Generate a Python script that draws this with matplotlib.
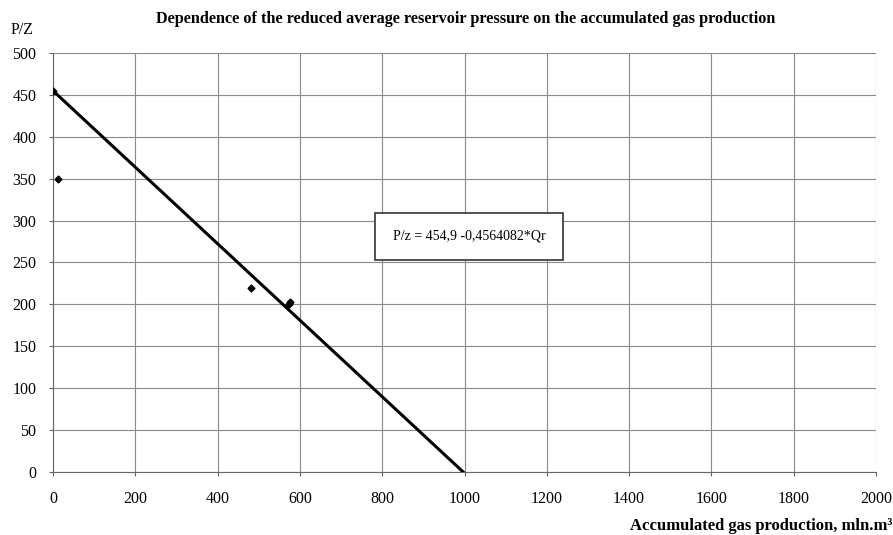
import matplotlib.pyplot as plt
import numpy as np

plt.rcParams['font.family'] = ['Liberation Serif', 'DejaVu Serif']

# measured points
q = [0, 12, 482, 573, 577]
pz = [455, 350, 220, 200, 203]

# trend line P/z = 454.9 - 0.4564082*Q
a, b = 454.9, 0.4564082
q_line = np.array([0, a / b])
pz_line = a - b * q_line

xticks = list(range(0, 2001, 200))
yticks = list(range(0, 501, 50))

fig = plt.figure(figsize=(8.93, 5.35), dpi=100)
ax = fig.add_axes([0.0594, 0.1178, 0.9216, 0.7832])

ax.plot(q_line, pz_line, color='black', lw=2.2, zorder=3)
ax.plot(q, pz, linestyle='none', marker='D', color='black', ms=3.5, zorder=4)

ax.set_xlim(0, 2000)
ax.set_ylim(0, 500)
ax.set_xticks(xticks)
ax.set_yticks(yticks)
ax.grid(True, color='#8a8a8a', lw=0.8)
ax.set_axisbelow(True)
for s in ['top', 'right']:
    ax.spines[s].set_visible(False)
for s in ['left', 'bottom']:
    ax.spines[s].set_color('#666666')
ax.tick_params(labelsize=11.5, length=3, color='#666666')
ax.tick_params(axis='x', pad=11)
ax.tick_params(axis='y', pad=9)

ax.text(1011, 281, 'P/z = 454,9 -0,4564082*Qr', fontsize=10, ha='center', va='center',
        bbox=dict(boxstyle='square,pad=1.25', fc='white', ec='#333333', lw=1.2), zorder=5)

fig.text(0.522, 0.965, 'Dependence of the reduced average reservoir pressure on the accumulated gas production',
         ha='center', va='center', fontsize=11.7, fontweight='bold')
fig.text(0.012, 0.944, 'P/Z', ha='left', va='center', fontsize=11.5)
fig.text(0.999, 0.017, 'Accumulated gas production, mln.m³', ha='right', va='center',
         fontsize=12, fontweight='bold')

fig.savefig('out.png', dpi=100)
